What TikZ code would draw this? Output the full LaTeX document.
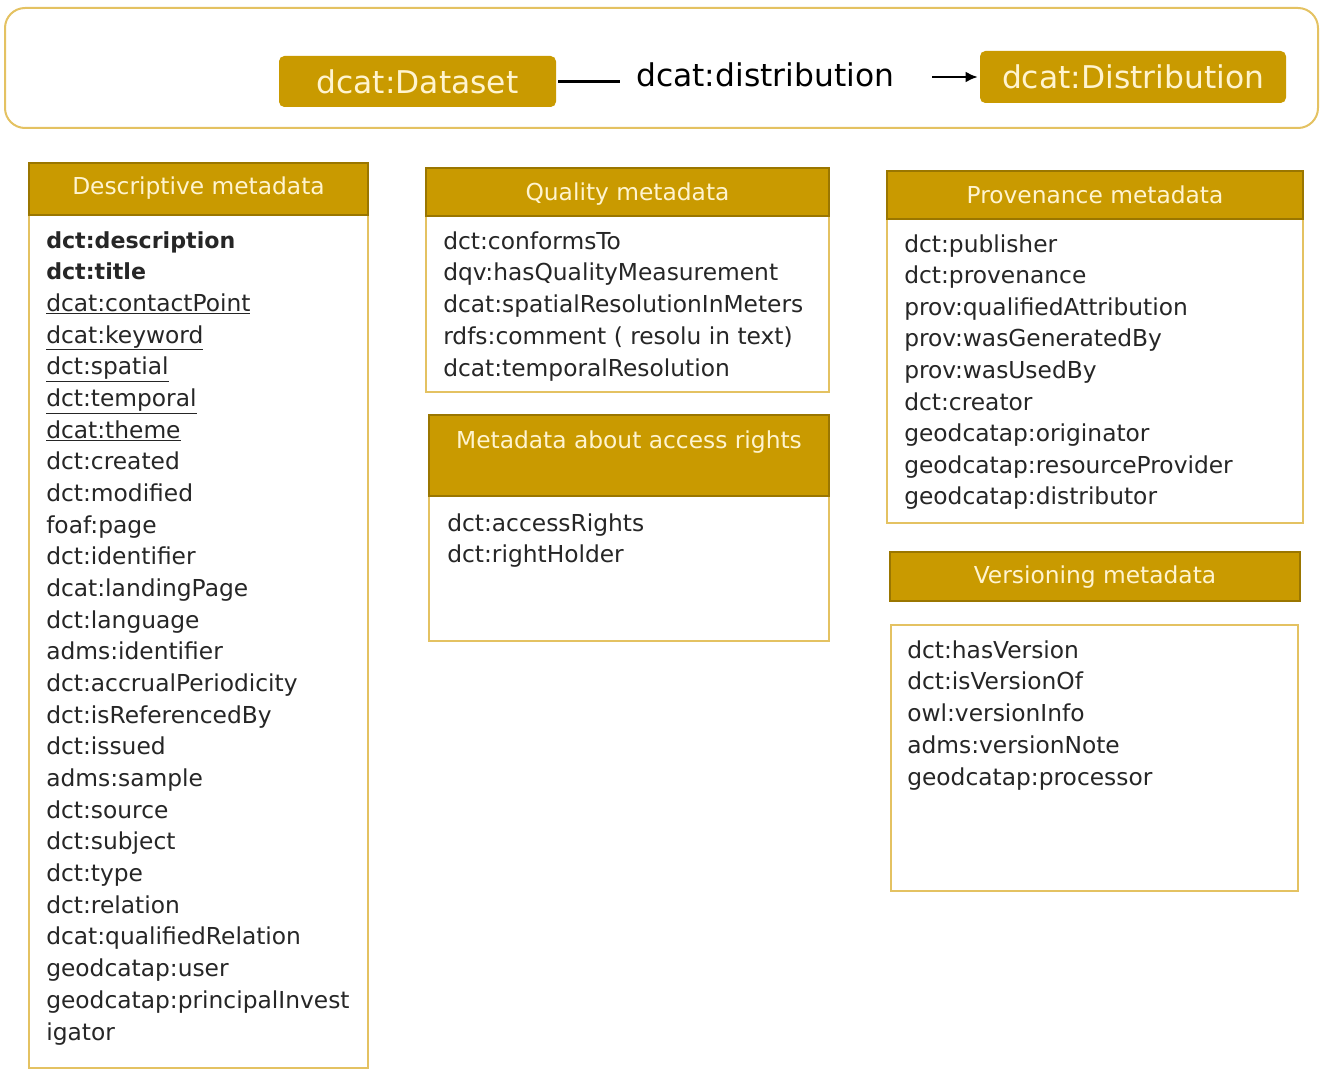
\documentclass[tikz,border=0pt]{standalone}
\usepackage{fontspec}
\setmainfont{DejaVu Sans}
\usetikzlibrary{arrows.meta}
\definecolor{gold}{HTML}{C99A00}
\definecolor{goldedge}{HTML}{9A7600}
\definecolor{lightedge}{HTML}{E4C262}
\definecolor{cream}{HTML}{FFF4CF}
\definecolor{ink}{HTML}{262626}
\newdimen\px
\px=0.75pt
\newcommand{\bolditem}[1]{{\fontsize{16.6}{21}\selectfont\bfseries #1}}
\begin{document}
\begin{tikzpicture}[x=0.75pt,y=-0.75pt,
  cls/.style={fill=gold, rounded corners=4pt, text=cream, inner sep=0pt,
    font=\fontsize{23.5}{28}\selectfont},
  lbl/.style={text=black, inner sep=0pt, font=\fontsize{23.5}{28}\selectfont},
  headbox/.style={draw=goldedge, fill=gold, line width=1.2pt},
  bodybox/.style={draw=lightedge, fill=white, line width=1.4pt},
  headtxt/.style={text=cream, anchor=base, inner sep=0pt,
    font=\fontsize{17.5}{21}\selectfont},
  item/.style={anchor=base west, text=ink, inner sep=0pt,
    font=\fontsize{17.5}{21}\selectfont},
  conn/.style={draw=black, line width=1.6pt}
]
\useasboundingbox (0,0) rectangle (1320,1070);

% top bar
\draw[draw=lightedge, line width=1.5pt, rounded corners=15pt] (5,8) rectangle (1318,128);
\node[cls, minimum width=277\px, minimum height=51\px] (ds) at (417.5,81.5) {dcat:Dataset};
\node[lbl, anchor=base west] (dl) at (636,87) {dcat:distribution};
\node[cls, minimum width=306\px, minimum height=52\px] (dist) at (1133,77) {dcat:Distribution};
\draw[conn] ([xshift=2\px]ds.east) -- ([xshift=-16\px]dl.west |- ds.east);
\draw[conn, -{Latex[length=9pt,width=8pt]}] ([xshift=38\px]dl.east |- dist.west) -- ([xshift=-2\px]dist.west);

% Descriptive metadata
\draw[bodybox] (29,215) rectangle (368,1068);
\draw[headbox] (29,163) rectangle (368,215);
\node[headtxt] (hdesc) at (198.5,195) {Descriptive metadata};
\foreach \t [count=\i from 0] in {{\bolditem{dct:description}},{\bolditem{dct:title}},
  {\underline{dcat:contactPoint}},{\underline{dcat:keyword}},{\underline{dct:spatial}},
  {\underline{dct:temporal}},{\underline{dcat:theme}},dct:created,dct:modified,foaf:page,
  dct:identifier,dcat:landingPage,dct:language,adms:identifier,dct:accrualPeriodicity,
  dct:isReferencedBy,dct:issued,adms:sample,dct:source,dct:subject,dct:type,dct:relation,
  dcat:qualifiedRelation,geodcatap:user,geodcatap:principalInvest,igator}
  \node[item] (desc\i) at (46,248+\i*31.68) {\t};

% Quality metadata
\draw[bodybox] (426,216) rectangle (829,392);
\draw[headbox] (426,168) rectangle (829,216);
\node[headtxt] (hqual) at (627.5,200) {Quality metadata};
\foreach \t [count=\i from 0] in {dct:conformsTo,dqv:hasQualityMeasurement,
  dcat:spatialResolutionInMeters,{rdfs:comment ( resolu in text)},dcat:temporalResolution}
  \node[item] (qual\i) at (443,249+\i*31.75) {\t};

% Access rights
\draw[bodybox] (429,496) rectangle (829,641);
\draw[headbox] (429,415) rectangle (829,496);
\node[headtxt] (hacc) at (629,448) {Metadata about access rights};
\foreach \t [count=\i from 0] in {dct:accessRights,dct:rightHolder}
  \node[item] (acc\i) at (447,531+\i*31) {\t};

% Provenance metadata
\draw[bodybox] (887,219) rectangle (1303,523);
\draw[headbox] (887,171) rectangle (1303,219);
\node[headtxt] (hprov) at (1095,203) {Provenance metadata};
\foreach \t [count=\i from 0] in {dct:publisher,dct:provenance,prov:qualifiedAttribution,
  prov:wasGeneratedBy,prov:wasUsedBy,dct:creator,geodcatap:originator,
  geodcatap:resourceProvider,geodcatap:distributor}
  \node[item] (prov\i) at (904,252+\i*31.6) {\t};

% Versioning metadata
\draw[headbox] (890,552) rectangle (1300,601);
\node[headtxt] (hver) at (1095,583) {Versioning metadata};
\draw[bodybox] (891,625) rectangle (1298,891);
\foreach \t [count=\i from 0] in {dct:hasVersion,dct:isVersionOf,owl:versionInfo,
  adms:versionNote,geodcatap:processor}
  \node[item] (ver\i) at (907,658+\i*31.75) {\t};
\end{tikzpicture}
\end{document}
